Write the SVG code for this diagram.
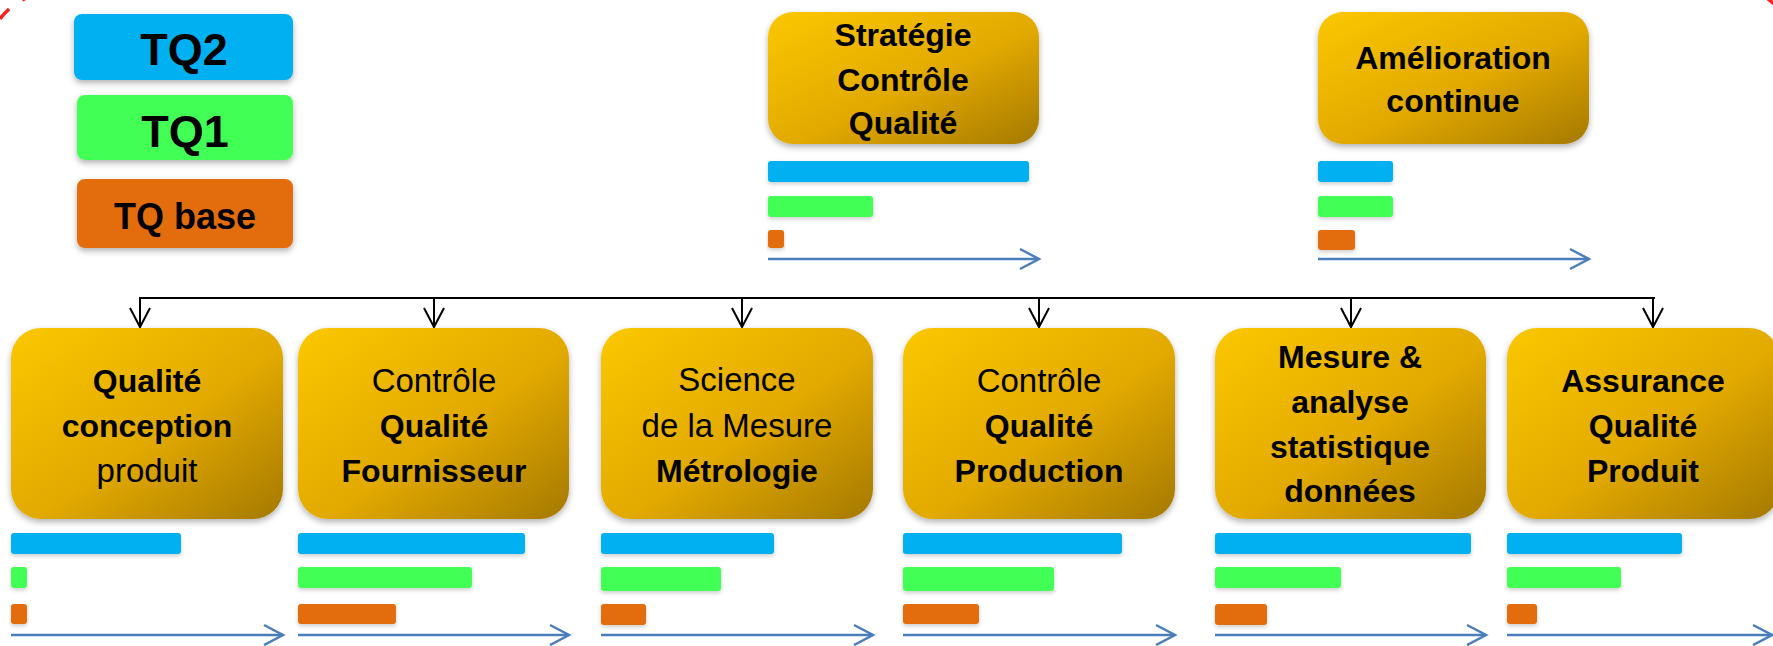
<svg xmlns="http://www.w3.org/2000/svg" width="1773" height="646" viewBox="0 0 1773 646">
<defs>
<linearGradient id="gold" x1="0" y1="0" x2="1" y2="1">
<stop offset="0" stop-color="#FBC800"/>
<stop offset="0.55" stop-color="#E2A900"/>
<stop offset="1" stop-color="#A57900"/>
</linearGradient>
<filter id="sh" x="-10%" y="-10%" width="120%" height="130%">
<feDropShadow dx="0" dy="3" stdDeviation="3" flood-color="#000" flood-opacity="0.3"/>
</filter>
<filter id="shs" x="-10%" y="-30%" width="120%" height="180%">
<feDropShadow dx="0" dy="2" stdDeviation="2" flood-color="#000" flood-opacity="0.2"/>
</filter>
<marker id="ah" markerUnits="userSpaceOnUse" markerWidth="24" markerHeight="24" viewBox="-20 -12 24 24" refX="0" refY="0" orient="auto">
<path d="M-19,-10 L0,0 L-19,10" fill="none" stroke="#000" stroke-width="2"/>
</marker>
<marker id="bh" markerUnits="userSpaceOnUse" markerWidth="24" markerHeight="24" viewBox="-20 -12 24 24" refX="0" refY="0" orient="auto">
<path d="M-19,-10 L0,0 L-19,10" fill="none" stroke="#4A7EBB" stroke-width="2.5"/>
</marker>
</defs>
<style>
.node{fill:url(#gold);filter:url(#sh)}
.t{font-family:"Liberation Sans",Arial,sans-serif;fill:#000;text-anchor:middle}
.b{font-weight:bold;font-size:32px}
.r{font-weight:normal;font-size:33px}
.blue{fill:#00B0F0;filter:url(#shs)}
.green{fill:#43FF55;filter:url(#shs)}
.orange{fill:#E36C0A;filter:url(#shs)}
.axis{stroke:#4A7EBB;stroke-width:2.5;fill:none;marker-end:url(#bh)}
.conn{stroke:#000;stroke-width:2;fill:none}
.frame{fill:none;stroke:#FF2020;stroke-width:3.5}
</style>
<path class="frame" d="M-12,56 A63,63 0 0 1 51,-7" stroke-dasharray="13.5 15.8" stroke-dashoffset="19.1"/>
<path class="frame" d="M1767,-2 L1774,4"/>

<g id="legend">
<rect x="74" y="14" width="219" height="66" rx="8" class="blue" style="filter:url(#sh)"/>
<text class="t" x="184" y="65" font-weight="bold" font-size="45">TQ2</text>
<rect x="77" y="95" width="216" height="65" rx="8" class="green" style="filter:url(#sh)"/>
<text class="t" x="185" y="147" font-weight="bold" font-size="45">TQ1</text>
<rect x="77" y="179" width="216" height="69" rx="8" class="orange" style="filter:url(#sh)"/>
<text class="t" x="185" y="229" font-weight="bold" font-size="36">TQ base</text>
</g>

<g id="strategie">
<rect class="node" x="768" y="12" width="271" height="132" rx="25"/>
<text class="t b" x="903" y="46">Stratégie</text>
<text class="t b" x="903" y="91">Contrôle</text>
<text class="t b" x="903" y="134">Qualité</text>
<rect class="blue" x="768" y="161" width="261" height="21" rx="3"/>
<rect class="green" x="768" y="196" width="105" height="21" rx="3"/>
<rect class="orange" x="768" y="230" width="16" height="18" rx="3"/>
<line class="axis" x1="768" y1="259" x2="1039" y2="259"/>
</g>

<g id="amelioration">
<rect class="node" x="1318" y="12" width="271" height="132" rx="25"/>
<text class="t b" x="1453" y="69">Amélioration</text>
<text class="t b" x="1453" y="112">continue</text>
<rect class="blue" x="1318" y="161" width="75" height="21" rx="3"/>
<rect class="green" x="1318" y="196" width="75" height="21" rx="3"/>
<rect class="orange" x="1318" y="230" width="37" height="20" rx="3"/>
<line class="axis" x1="1318" y1="259" x2="1589" y2="259"/>
</g>

<g id="connectors">
<line class="conn" x1="139" y1="298" x2="1655" y2="298"/>
<line class="conn" x1="140" y1="297" x2="140" y2="327" marker-end="url(#ah)"/>
<line class="conn" x1="434" y1="298" x2="434" y2="327" marker-end="url(#ah)"/>
<line class="conn" x1="742" y1="298" x2="742" y2="327" marker-end="url(#ah)"/>
<line class="conn" x1="1039" y1="298" x2="1039" y2="327" marker-end="url(#ah)"/>
<line class="conn" x1="1351" y1="298" x2="1351" y2="327" marker-end="url(#ah)"/>
<line class="conn" x1="1653" y1="297" x2="1653" y2="327" marker-end="url(#ah)"/>
</g>

<g id="conception">
<rect class="node" x="11" y="328" width="272" height="191" rx="30"/>
<text class="t b" x="147" y="392">Qualité</text>
<text class="t b" x="147" y="437">conception</text>
<text class="t r" x="147" y="482">produit</text>
<rect class="blue" x="11" y="533" width="170" height="21" rx="3"/>
<rect class="green" x="11" y="567" width="16" height="21" rx="3"/>
<rect class="orange" x="11" y="604" width="16" height="20" rx="3"/>
<line class="axis" x1="11" y1="635" x2="283" y2="635"/>
</g>

<g id="fournisseur">
<rect class="node" x="298" y="328" width="271" height="191" rx="30"/>
<text class="t r" x="434" y="392">Contrôle</text>
<text class="t b" x="434" y="437">Qualité</text>
<text class="t b" x="434" y="482">Fournisseur</text>
<rect class="blue" x="298" y="533" width="227" height="21" rx="3"/>
<rect class="green" x="298" y="567" width="174" height="21" rx="3"/>
<rect class="orange" x="298" y="604" width="98" height="20" rx="3"/>
<line class="axis" x1="298" y1="635" x2="569" y2="635"/>
</g>

<g id="metrologie">
<rect class="node" x="601" y="328" width="272" height="191" rx="30"/>
<text class="t r" x="737" y="391">Science</text>
<text class="t r" x="737" y="437">de la Mesure</text>
<text class="t b" x="737" y="482">Métrologie</text>
<rect class="blue" x="601" y="533" width="173" height="21" rx="3"/>
<rect class="green" x="601" y="567" width="120" height="24" rx="3"/>
<rect class="orange" x="601" y="604" width="45" height="21" rx="3"/>
<line class="axis" x1="601" y1="635" x2="873" y2="635"/>
</g>

<g id="production">
<rect class="node" x="903" y="328" width="272" height="191" rx="30"/>
<text class="t r" x="1039" y="392">Contrôle</text>
<text class="t b" x="1039" y="437">Qualité</text>
<text class="t b" x="1039" y="482">Production</text>
<rect class="blue" x="903" y="533" width="219" height="21" rx="3"/>
<rect class="green" x="903" y="567" width="151" height="24" rx="3"/>
<rect class="orange" x="903" y="604" width="76" height="20" rx="3"/>
<line class="axis" x1="903" y1="635" x2="1175" y2="635"/>
</g>

<g id="mesure">
<rect class="node" x="1215" y="328" width="271" height="191" rx="30"/>
<text class="t b" x="1350" y="368">Mesure &amp;</text>
<text class="t b" x="1350" y="413">analyse</text>
<text class="t b" x="1350" y="458">statistique</text>
<text class="t b" x="1350" y="502">données</text>
<rect class="blue" x="1215" y="533" width="256" height="21" rx="3"/>
<rect class="green" x="1215" y="567" width="126" height="21" rx="3"/>
<rect class="orange" x="1215" y="604" width="52" height="21" rx="3"/>
<line class="axis" x1="1215" y1="635" x2="1486" y2="635"/>
</g>

<g id="assurance">
<rect class="node" x="1507" y="328" width="272" height="191" rx="30"/>
<text class="t b" x="1643" y="392">Assurance</text>
<text class="t b" x="1643" y="437">Qualité</text>
<text class="t b" x="1643" y="482">Produit</text>
<rect class="blue" x="1507" y="533" width="175" height="21" rx="3"/>
<rect class="green" x="1507" y="567" width="114" height="21" rx="3"/>
<rect class="orange" x="1507" y="604" width="30" height="20" rx="3"/>
<line class="axis" x1="1507" y1="635" x2="1772" y2="635"/>
</g>
</svg>
